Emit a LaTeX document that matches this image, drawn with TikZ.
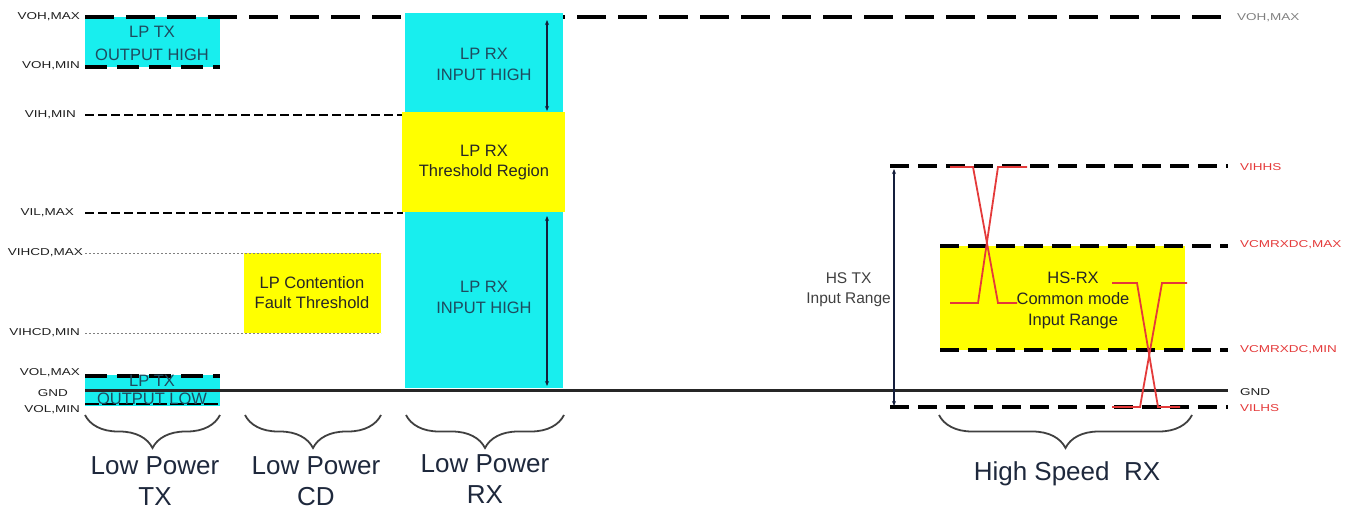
\documentclass[tikz,border=0pt]{standalone}
\usepackage{fontspec}
\usepackage{graphicx}
\setmainfont{Liberation Sans}
\usetikzlibrary{decorations.pathreplacing,arrows.meta}
\definecolor{lpcyan}{RGB}{24,238,238}
\definecolor{lpyel}{RGB}{255,255,0}
\definecolor{tealtxt}{RGB}{30,75,95}
\definecolor{hsred}{RGB}{228,58,58}
\definecolor{labgray}{RGB}{30,30,30}
\definecolor{bigtxt}{RGB}{30,40,60}
\definecolor{navy}{RGB}{20,30,60}
\newcommand\widelab[1]{\scalebox{1.35}[1]{#1}}
\tikzset{
 lvlthick/.style={line width=3.2pt, dash pattern=on 29pt off 12pt},
 lvlshort/.style={line width=3.2pt, dash pattern=on 22pt off 10pt},
 lvlhs/.style={line width=3.2pt, dash pattern=on 19pt off 9pt},
 lvlthin/.style={line width=2.4pt, dash pattern=on 9pt off 4pt},
 lvldot/.style={line width=0.8pt, draw=gray, dash pattern=on 2pt off 2pt},
 gndline/.style={line width=3pt, draw=black!85},
 boxtxt/.style={font=\fontsize{16.5}{21}\selectfont, align=center, text=tealtxt, inner sep=0pt},
 yeltxt/.style={font=\fontsize{16.5}{20}\selectfont, align=center, text=black!85, inner sep=0pt},
 leftlab/.style={anchor=east, font=\fontsize{10}{12}\selectfont, text=labgray, inner sep=0pt},
 rightlab/.style={anchor=west, font=\fontsize{10}{12}\selectfont, inner sep=0pt},
 biglab/.style={font=\fontsize{26}{31}\selectfont, align=center, text=bigtxt, inner sep=0pt},
 bracestyle/.style={decorate, decoration={brace, mirror, amplitude=33pt}, line width=1.8pt, draw=black!75},
 rangearrow/.style={line width=1.8pt, draw=navy, {Stealth[length=5pt,width=4pt]}-{Stealth[length=5pt,width=4pt]}},
 wave/.style={line width=1.8pt, draw=hsred}
}
\begin{document}
\begin{tikzpicture}[x=1pt,y=-1pt]
\useasboundingbox (0,0) rectangle (1354,513);
% background boxes under lines
\fill[lpcyan] (85,17) rectangle (220,67);
\fill[lpcyan] (85,375) rectangle (220,406);
\fill[lpyel] (244,253) rectangle (381,333);
\fill[lpyel] (940,246) rectangle (1185,350);
% level lines
\draw[lvlthick] (85,17) -- (1228,17);
\draw[lvlshort] (85,67) -- (220,67);
\draw[lvlthin] (85,115) -- (403,115);
\draw[lvlthin] (85,213) -- (403,213);
\draw[lvldot] (85,253) -- (381,253);
\draw[lvldot] (85,333) -- (381,333);
\draw[lvlshort] (85,376) -- (220,376);
\draw[line width=1.8pt, dash pattern=on 14pt off 3pt] (85,404) -- (218,404);
\draw[lvlhs] (890,166) -- (1228,166);
\draw[lvlhs] (940,246) -- (1228,246);
\draw[lvlhs] (940,350) -- (1228,350);
\draw[lvlhs] (890,407) -- (1228,407);
% LP RX column
\fill[lpcyan] (405,13) rectangle (563,112);
\fill[lpyel] (402,112) rectangle (565,212);
\fill[lpcyan] (405,212) rectangle (563,388);
\draw[gndline] (85,390) -- (1228,390);
% box texts
\node[boxtxt] (txhigh) at (152,43) {LP TX\\[2pt]OUTPUT HIGH};
\node[boxtxt] (txlow) at (152,390) {LP TX\\[-3pt]OUTPUT LOW};
\node[boxtxt] (rxhigh1) at (484,64) {LP RX\\INPUT HIGH};
\node[yeltxt] (rxthr) at (484,163) {LP RX\\Threshold Region};
\node[boxtxt] (rxhigh2) at (484,297) {LP RX\\INPUT HIGH};
\node[yeltxt] (cdbox) at (312,293) {LP Contention\\Fault Threshold};
\node[yeltxt] (hsrx) at (1073,300) {HS-RX\\[1pt]Common mode\\[1pt]Input Range};
\node[yeltxt, anchor=east, text=black!75, font=\fontsize{15.5}{20}\selectfont] (hstx) at (891,290) {HS TX\\Input Range};
% range arrows
\coordinate (ra1) at (547,20); \coordinate (ra2) at (547,111);
\coordinate (rb1) at (547,216); \coordinate (rb2) at (547,386);
\coordinate (hc1) at (894,169); \coordinate (hc2) at (894,406);
\draw[rangearrow] (ra1) -- (ra2);
\draw[rangearrow] (rb1) -- (rb2);
\draw[rangearrow] (hc1) -- (hc2);
% waveforms
\draw[wave] (950,167) -- (973,167) -- (998,303) -- (1017,303);
\draw[wave] (950,303) -- (978,303) -- (998,167) -- (1027,167);
\draw[wave] (1112,283) -- (1137,283) -- (1158,407) -- (1180,407);
\draw[wave] (1112,407) -- (1140,407) -- (1162,283) -- (1187,283);
% left labels
\node[leftlab] (lvohmax) at (80,17) {\widelab{VOH,MAX}};
\node[leftlab] (lvohmin) at (80,66) {\widelab{VOH,MIN}};
\node[leftlab] (lvihmin) at (76,115) {\widelab{VIH,MIN}};
\node[leftlab] (lvilmax) at (74,213) {\widelab{VIL,MAX}};
\node[leftlab] (lvihcdmax) at (83,253) {\widelab{VIHCD,MAX}};
\node[leftlab] (lvihcdmin) at (80,333) {\widelab{VIHCD,MIN}};
\node[leftlab] (lvolmax) at (80,373) {\widelab{VOL,MAX}};
\node[leftlab] (lgnd) at (68,393) {\widelab{GND}};
\node[leftlab] (lvolmin) at (80,410) {\widelab{VOL,MIN}};
% right labels
\node[rightlab, text=gray] (rvohmax) at (1237,18) {\widelab{VOH,MAX}};
\node[rightlab, text=hsred] (rvihhs) at (1240,167) {\widelab{VIHHS}};
\node[rightlab, text=hsred] (rvcmmax) at (1240,245) {\widelab{VCMRXDC,MAX}};
\node[rightlab, text=hsred] (rvcmmin) at (1240,350) {\widelab{VCMRXDC,MIN}};
\node[rightlab, text=labgray] (rgnd) at (1240,392) {\widelab{GND}};
\node[rightlab, text=hsred] (rvilhs) at (1240,408) {\widelab{VILHS}};
% braces
\draw[bracestyle] (85,415) -- (220,415);
\draw[bracestyle] (245,415) -- (381,415);
\draw[bracestyle] (406,415) -- (564,415);
\draw[bracestyle] (939,415) -- (1192,415);
% group labels
\node[biglab] (gtx) at (155,481) {Low Power\\TX};
\node[biglab] (gcd) at (316,481) {Low Power\\CD};
\node[biglab] (grx) at (485,479) {Low Power\\RX};
\node[biglab] (ghs) at (1067,474) {High Speed\ \ RX};
\end{tikzpicture}
\end{document}
